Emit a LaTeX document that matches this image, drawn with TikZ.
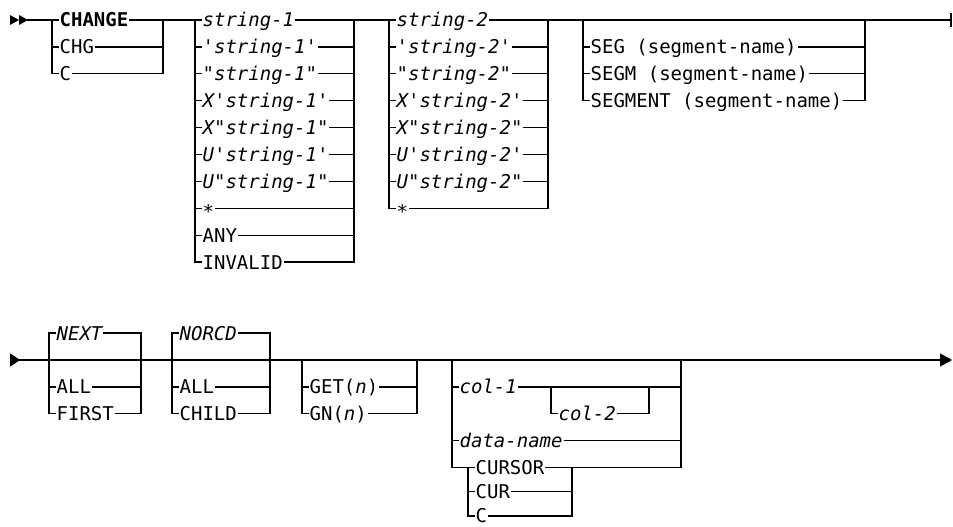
\documentclass[tikz,border=0pt]{standalone}
\usepackage{fontspec}
\setmonofont{DejaVu Sans Mono}[ItalicFont={DejaVu Sans Mono Oblique},BoldFont={DejaVu Sans Mono Bold},BoldItalicFont={DejaVu Sans Mono Bold Oblique}]
\newcommand\kwfont{\ttfamily\fontsize{19}{21}\selectfont}
\newcommand\rrow[6]{\node[kw,#5] (#1) at ({#2+6},#4) {#6};\draw (#2,#4) -- (#1.west) (#1.east) -- (#3,#4);}
\tikzset{
  kw/.style={font=\kwfont, anchor=west, inner xsep=1pt, inner ysep=0pt, text height=13.8pt, text depth=0pt},
  it/.style={font=\kwfont\itshape},
  bd/.style={font=\kwfont\bfseries},
  up/.style={},
  rail/.style={line width=1.3pt, line cap=rect, line join=miter}
}
\begin{document}
\begin{tikzpicture}[x=1pt,y=-1pt,rail]
\useasboundingbox (0,0) rectangle (953,527);
% ---------- row 1 ----------
\fill (10,15) -- (19,20) -- (10,25) -- cycle;
\fill (19,15) -- (28,20) -- (19,25) -- cycle;
\coordinate (s1) at (28,20);
\coordinate (e1) at (951,20);
\draw (s1) -- (52,20);
% group A
\draw (52,20) -- (52,73.8) (163,20) -- (163,73.8);
\rrow{a1}{52}{163}{20}{bd}{CHANGE}
\rrow{a2}{52}{163}{46.9}{up}{CHG}
\rrow{a3}{52}{163}{73.8}{up}{C}
\draw (163,20) -- (195,20);
% group B
\draw (195,20) -- (195,262.1) (354,20) -- (354,262.1);
\rrow{b1}{195}{354}{20}{it}{string-1}
\rrow{b2}{195}{354}{46.9}{it}{'string-1'}
\rrow{b3}{195}{354}{73.8}{it}{"string-1"}
\rrow{b4}{195}{354}{100.7}{it}{X'string-1'}
\rrow{b5}{195}{354}{127.6}{it}{X"string-1"}
\rrow{b6}{195}{354}{154.5}{it}{U'string-1'}
\rrow{b7}{195}{354}{181.4}{it}{U"string-1"}
\rrow{b8}{195}{354}{208.3}{up}{\raisebox{-3pt}{*}}
\rrow{b9}{195}{354}{235.2}{up}{ANY}
\rrow{b10}{195}{354}{262.1}{up}{INVALID}
\draw (354,20) -- (389,20);
% group C
\draw (389,20) -- (389,208.3) (548,20) -- (548,208.3);
\rrow{c1}{389}{548}{20}{it}{string-2}
\rrow{c2}{389}{548}{46.9}{it}{'string-2'}
\rrow{c3}{389}{548}{73.8}{it}{"string-2"}
\rrow{c4}{389}{548}{100.7}{it}{X'string-2'}
\rrow{c5}{389}{548}{127.6}{it}{X"string-2"}
\rrow{c6}{389}{548}{154.5}{it}{U'string-2'}
\rrow{c7}{389}{548}{181.4}{it}{U"string-2"}
\rrow{c8}{389}{548}{208.3}{up}{\raisebox{-3pt}{*}}
\draw (548,20) -- (e1);
% group D
\draw (583,20) -- (583,100.7) (865,20) -- (865,100.7);
\rrow{d1}{583}{865}{46.9}{up}{SEG (segment-name)}
\rrow{d2}{583}{865}{73.8}{up}{SEGM (segment-name)}
\rrow{d3}{583}{865}{100.7}{up}{SEGMENT (segment-name)}
\draw ([yshift=-6pt]e1) -- ([yshift=6pt]e1);
% ---------- row 2 ----------
\fill (10,353.3) -- (20,360) -- (10,366.7) -- cycle;
\coordinate (s2) at (20,360);
\coordinate (e2) at (940,360);
\draw (s2) -- (e2);
\fill (940,353.3) -- (952,360) -- (940,366.7) -- cycle;
% group E
\draw (49,333.1) -- (49,413.8) (141,333.1) -- (141,413.8);
\rrow{e1n}{49}{141}{333.1}{it}{NEXT}
\rrow{e2n}{49}{141}{386.9}{up}{ALL}
\rrow{e3n}{49}{141}{413.8}{up}{FIRST}
% group F
\draw (172,333.1) -- (172,413.8) (270,333.1) -- (270,413.8);
\rrow{f1}{172}{270}{333.1}{it}{NORCD}
\rrow{f2}{172}{270}{386.9}{up}{ALL}
\rrow{f3}{172}{270}{413.8}{up}{CHILD}
% group G
\draw (302,360) -- (302,413.8) (417,360) -- (417,413.8);
\rrow{g1}{302}{417}{386.9}{up}{GET(\textit{n})}
\rrow{g2}{302}{417}{413.8}{up}{GN(\textit{n})}
% group H
\draw (452,360) -- (452,467.6) -- (468,467.6) (681,360) -- (681,467.6);
\rrow{h1}{452}{681}{386.9}{it}{col-1}
\draw (551,386.9) -- (551,413.8) (649,386.9) -- (649,413.8);
\rrow{h2}{551}{649}{413.8}{it}{col-2}
\rrow{h3}{452}{681}{440.7}{it}{data-name}
\draw (468,467.6) -- (468,516) (572,467.6) -- (572,516);
\rrow{k1}{468}{572}{467.6}{up}{CURSOR}
\rrow{k2}{468}{572}{491.8}{up}{CUR}
\rrow{k3}{468}{572}{516}{up}{C}
\draw (572,467.6) -- (681,467.6);
\end{tikzpicture}
\end{document}
